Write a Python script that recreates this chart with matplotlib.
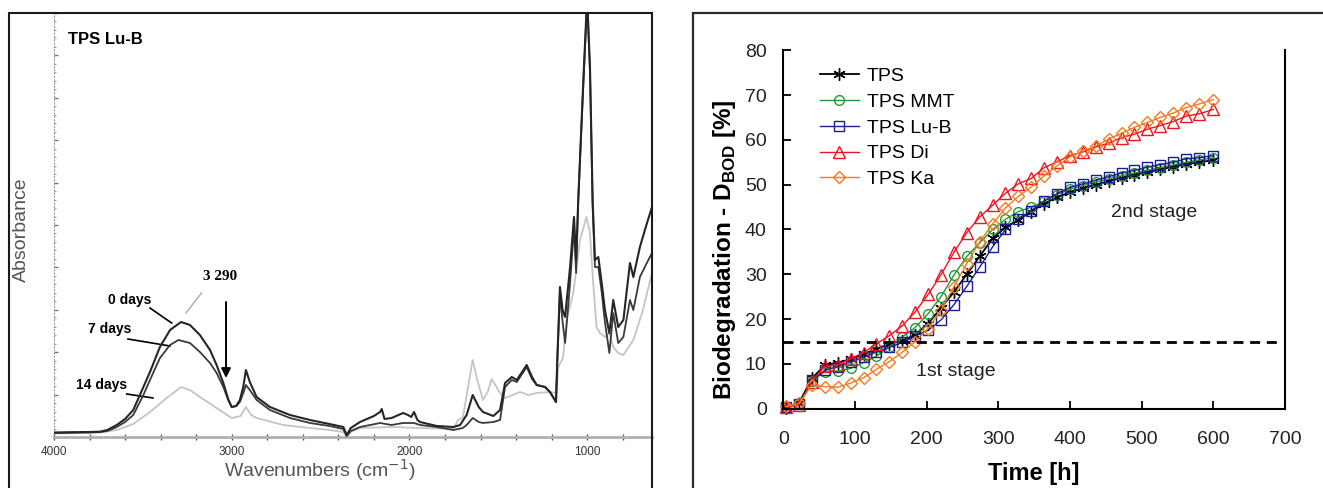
import matplotlib
matplotlib.use('Agg')
import matplotlib.pyplot as plt
from matplotlib.patches import Rectangle
from matplotlib.ticker import MultipleLocator, FixedLocator, NullFormatter

plt.rcParams['font.family'] = ['Liberation Sans', 'DejaVu Sans']

W, H = 1323, 488

# ---------------- FTIR spectra (TPS Lu-B) ----------------
# absorbance in arbitrary units (x100)
wn_0d = [4000, 3900, 3800, 3741, 3700, 3647, 3600, 3554, 3497, 3460, 3404, 3347, 3285, 3235,
         3179, 3122, 3085, 3047, 3020, 3000, 2975, 2954, 2935, 2920, 2898, 2860, 2785, 2672,
         2560, 2450, 2372, 2353, 2330, 2278, 2200, 2165, 2156, 2140, 2100, 2036, 2008, 1990,
         1974, 1955, 1940, 1846, 1752, 1715, 1678, 1644, 1610, 1586, 1528, 1490, 1462, 1424,
         1396, 1340, 1310, 1284, 1237, 1209, 1175, 1168, 1153, 1138, 1124, 1096, 1074, 1062,
         1050, 1022, 1000, 984, 969, 956, 937, 918, 900, 875, 853, 825, 796, 759, 740, 703,
         670, 635]
abs_0d = [4.5, 4.8, 5.0, 5.3, 7, 12, 18, 27, 50, 65, 90, 107, 115, 112,
          102, 87, 72, 54, 38, 30, 31, 37, 50, 67, 55, 40, 30, 22,
          17, 13, 10, 2, 9, 15, 21, 25, 28, 18, 19, 24, 22, 20,
          25, 17, 15, 11, 10, 12, 22, 42, 30, 25, 21, 27, 54, 60,
          57, 72, 60, 52, 50, 45, 35, 77, 150, 127, 120, 170, 220, 177,
          237, 354, 440, 370, 237, 177, 180, 154, 127, 104, 137, 110, 117, 174, 160, 190,
          210, 230]

wn_7d = [4000, 3900, 3800, 3741, 3700, 3647, 3600, 3554, 3497, 3460, 3404, 3347, 3300, 3235,
         3179, 3122, 3085, 3047, 3020, 3000, 2975, 2954, 2935, 2920, 2898, 2860, 2785, 2672,
         2560, 2450, 2372, 2353, 2330, 2278, 2165, 2100, 2036, 1974, 1940, 1846, 1752, 1700,
         1678, 1644, 1610, 1586, 1528, 1490, 1462, 1424, 1396, 1340, 1310, 1284, 1237, 1209,
         1175, 1168, 1153, 1138, 1124, 1096, 1074, 1062, 1050, 1022, 1000, 984, 969, 956,
         937, 918, 900, 875, 853, 825, 796, 759, 740, 703, 670, 635]
abs_7d = [4.0, 4.3, 4.6, 5, 6, 10, 15, 22, 42, 57, 79, 92, 97, 94,
          85, 74, 64, 50, 37, 30, 31, 35, 44, 52, 47, 37, 27, 19,
          14, 11, 8, 1, 6, 10, 14, 12, 14, 14, 12, 10, 7, 9,
          12, 19, 15, 14, 15, 17, 50, 57, 55, 70, 58, 52, 50, 45,
          35, 75, 144, 115, 94, 154, 210, 164, 237, 350, 435, 365, 230, 170,
          170, 145, 115, 84, 124, 94, 100, 137, 127, 160, 172, 184]

wn_14d = [4000, 3800, 3741, 3647, 3554, 3460, 3366, 3285, 3235, 3179, 3085, 3000, 2950, 2920,
          2890, 2860, 2710, 2560, 2450, 2372, 2353, 2330, 2278, 2100, 1940, 1752, 1727, 1700,
          1670, 1644, 1615, 1586, 1560, 1537, 1510, 1490, 1462, 1420, 1378, 1330, 1284, 1209,
          1175, 1162, 1136, 1115, 1078, 1040, 1004, 984, 966, 947, 928, 900, 875, 853, 825,
          796, 740, 686, 635]
abs_14d = [3.5, 4, 4.5, 7, 13, 25, 39, 50, 47, 40, 29, 19, 21, 30,
           22, 19, 12, 9, 7, 5, 0.5, 5, 9, 10, 9, 8, 17, 19,
           50, 77, 55, 37, 45, 58, 50, 44, 39, 42, 45, 42, 44, 45,
           44, 70, 79, 117, 144, 197, 220, 204, 154, 110, 104, 100, 104, 90, 84,
           82, 97, 127, 164]

# ---------------- Biodegradation data ----------------
time_h = [4, 22, 40, 58, 76, 94, 112, 130, 148, 166, 184, 202, 220, 238, 256, 274, 292,
          310, 328, 346, 364, 382, 400, 418, 436, 454, 472, 490, 508, 526, 544, 562, 580, 600]
tps = [0.2, 1.3, 6.8, 9.7, 10.3, 11.0, 12.2, 13.3, 14.5, 15.2, 16.5, 19.0, 22.5, 26.0, 30.0,
       34.0, 38.0, 40.5, 42.2, 44.0, 45.8, 47.2, 48.3, 49.2, 50.0, 50.8, 51.5, 52.2, 52.8,
       53.4, 54.0, 54.6, 55.0, 55.5]
tps_mmt = [0.3, 1.2, 6.2, 8.3, 8.4, 9.0, 10.3, 11.7, 13.8, 16.0, 18.1, 21.2, 25.0, 29.8, 34.0,
           37.0, 40.0, 42.3, 44.0, 45.0, 46.3, 47.8, 49.0, 49.8, 50.6, 51.3, 52.0, 52.6, 53.2,
           53.8, 54.4, 55.0, 55.5, 56.0]
tps_lub = [0.3, 1.0, 6.3, 8.6, 9.4, 10.5, 11.5, 12.7, 13.7, 14.8, 16.2, 17.5, 19.8, 23.2, 27.3,
           31.6, 36.1, 40.0, 42.4, 44.2, 46.4, 48.0, 49.4, 50.2, 51.0, 51.8, 52.6, 53.2, 53.9,
           54.5, 55.0, 55.8, 56.0, 56.5]
tps_di = [0.3, 0.8, 6.0, 9.5, 9.8, 11.2, 12.5, 14.5, 16.3, 18.5, 21.6, 25.5, 29.9, 34.9, 39.3,
          42.8, 45.4, 48.1, 50.2, 51.4, 53.8, 55.1, 56.5, 57.3, 58.4, 59.3, 60.5, 61.3, 62.4,
          63.2, 64.1, 65.3, 65.8, 66.8]
tps_ka = [0.5, 1.2, 5.3, 4.9, 4.8, 5.7, 6.9, 8.8, 10.5, 12.6, 15.0, 17.9, 22.0, 27.2, 32.4,
          37.3, 41.2, 44.8, 47.4, 49.5, 52.0, 54.2, 56.2, 57.5, 58.6, 60.2, 61.5, 62.8, 63.9,
          65.0, 66.0, 67.2, 68.0, 69.0]
series_labels = ['TPS', 'TPS MMT', 'TPS Lu-B', 'TPS Di', 'TPS Ka']
stage_threshold = 15

fig = plt.figure(figsize=(W / 100, H / 100), dpi=100)

# ================= LEFT PANEL =================
axL = fig.add_axes([54 / W, (H - 437) / H, (652 - 54) / W, 424 / H])
axL.set_xlim(4000, 635)
axL.set_ylim(0, 424)
axL.plot(wn_14d, abs_14d, color='#c4c4c4', lw=1.3, zorder=2)
axL.plot(wn_7d, abs_7d, color='#3a3a3a', lw=1.3, zorder=3)
axL.plot(wn_0d, abs_0d, color='#262626', lw=1.5, zorder=4)

for s in ['top', 'right']:
    axL.spines[s].set_visible(False)
axL.spines['bottom'].set_color('#b0b0b0')
axL.spines['bottom'].set_linewidth(2.0)
axL.spines['left'].set_color('#9a9a9a')
axL.spines['left'].set_linewidth(0.8)
axL.spines['left'].set_linestyle((0, (1, 2)))
axL.xaxis.set_major_locator(FixedLocator([4000, 3000, 2000, 1000]))
axL.xaxis.set_minor_locator(MultipleLocator(200))
axL.tick_params(axis='x', which='both', direction='inout', length=5, width=1, colors='#555555',
                labelsize=8.5, pad=4)
axL.tick_params(axis='x', which='major', labelcolor='#333333')
axL.yaxis.set_major_locator(MultipleLocator(42.4))
axL.yaxis.set_minor_locator(MultipleLocator(8.48))
axL.yaxis.set_major_formatter(NullFormatter())
axL.tick_params(axis='y', which='major', direction='in', length=3, width=1, colors='#777777')
axL.tick_params(axis='y', which='minor', direction='in', length=1.5, width=0.8, colors='#999999')
axL.set_xlabel('Wavenumbers (cm$^{-1}$)', fontsize=14, color='#555555')
axL.xaxis.set_label_coords(0.445, -0.078)
axL.xaxis.label.set_va('center')
axL.set_ylabel('Absorbance', fontsize=14, color='#555555', va='center')
axL.yaxis.set_label_coords(-0.054, 0.49)

axL.text(3921, 397, 'TPS Lu-B', fontsize=12, fontweight='bold', ha='left', va='center')
axL.text(3572, 137, '0 days', fontsize=10, fontweight='bold', ha='center', va='center')
axL.text(3685, 108, '7 days', fontsize=10, fontweight='bold', ha='center', va='center')
axL.text(3732, 52, '14 days', fontsize=10, fontweight='bold', ha='center', va='center')
axL.text(3066, 160, '3 290', fontsize=11, fontweight='bold', family='Liberation Serif',
         ha='center', va='center')
axL.plot([3460, 3338], [129, 114], color='black', lw=1.2)
axL.plot([3584, 3347], [98, 91], color='black', lw=1.2)
axL.plot([3591, 3443], [43, 39], color='black', lw=1.2)
axL.plot([3170, 3257], [144, 124], color='#aaaaaa', lw=1.0)
axL.annotate('', xy=(3032, 59), xytext=(3032, 135),
             arrowprops=dict(arrowstyle='-|>', color='black', lw=1.4,
                             mutation_scale=14, shrinkA=0, shrinkB=0))

fig.patches.append(Rectangle((9 / W, -0.2), (652 - 9) / W, (H - 13) / H + 0.2,
                             transform=fig.transFigure, fill=False, lw=1.5,
                             edgecolor='#1a1a1a', clip_on=False))

# ================= RIGHT PANEL =================
axR = fig.add_axes([783.3 / W, (H - 408.7) / H, 501.7 / W, 358.4 / H])
axR.set_xlim(0, 700)
axR.set_ylim(0, 80)

styles = [
    dict(color='black', marker=(6, 2, 0), ms=9, mew=1.0, lw=1.3),
    dict(color='#1f9a35', marker='o', ms=7, mfc='none', mew=1.0, lw=1.0),
    dict(color='#1c1c96', marker='s', ms=7, mfc='none', mew=1.0, lw=1.0),
    dict(color='#f0141e', marker='^', ms=8, mfc='none', mew=1.0, lw=1.0),
    dict(color='#f47a1f', marker='D', ms=6.5, mfc='none', mew=1.0, lw=1.0),
]
for vals, lab, st in zip([tps, tps_mmt, tps_lub, tps_di, tps_ka], series_labels, styles):
    axR.plot(time_h, vals, label=lab, clip_on=False, **st)

axR.axhline(stage_threshold, xmin=0, xmax=0.995, color='black', lw=2, ls=(0, (3.6, 2.4)))
axR.text(241, 8.2, '1st stage', fontsize=14, ha='center', va='center', color='#222222')
axR.text(517, 43.9, '2nd stage', fontsize=14, ha='center', va='center', color='#222222')

axR.spines['top'].set_visible(False)
for s in ['left', 'bottom', 'right']:
    axR.spines[s].set_linewidth(1.5)
axR.set_xticks(range(0, 701, 100))
axR.set_yticks(range(0, 81, 10))
axR.tick_params(axis='both', direction='in', length=6, width=1.3, labelsize=14,
                labelcolor='#222222')
axR.tick_params(axis='x', pad=16)
axR.tick_params(axis='y', pad=12, right=False)
axR.set_xlabel('Time [h]', fontsize=17, fontweight='bold')
axR.xaxis.set_label_coords(0.5, -0.18)
axR.xaxis.label.set_va('center')
axR.set_ylabel(r'Biodegradation - D$_{\mathregular{BOD}}$ [%]', fontsize=17.5,
               fontweight='bold', va='center')
axR.yaxis.set_label_coords(-0.117, 0.443)

leg = axR.legend(loc='upper left', bbox_to_anchor=(0.073, 0.952), frameon=False,
                 fontsize=14, handlelength=2.0, handletextpad=0.4, labelspacing=0.42,
                 borderpad=0, borderaxespad=0, numpoints=1)

fig.patches.append(Rectangle((693 / W, -0.2), 1.0, (H - 13) / H + 0.2,
                             transform=fig.transFigure, fill=False, lw=1.6,
                             edgecolor='#2a2a2a', clip_on=False))

fig.savefig('out.png', dpi=100)
